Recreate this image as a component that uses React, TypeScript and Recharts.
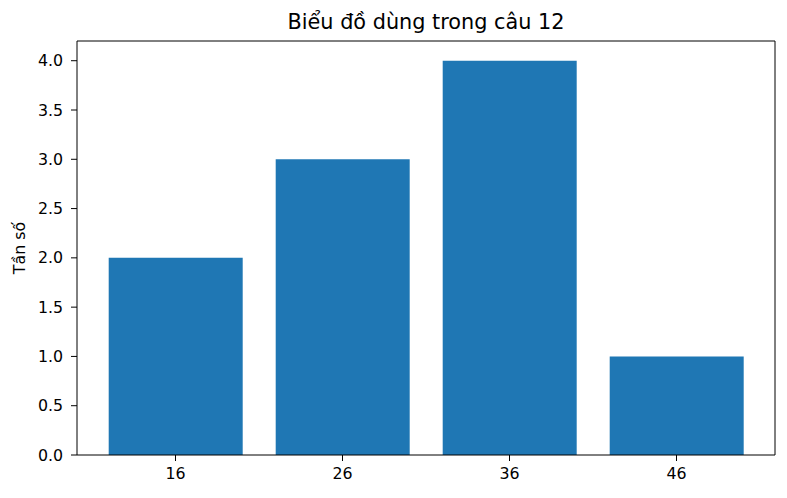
import React from 'react';
import { BarChart, Bar, XAxis, YAxis } from 'recharts';

const categories = ['16', '26', '36', '46'];
const frequencies = [2, 3, 4, 1];
const yTicks = [0, 0.5, 1, 1.5, 2, 2.5, 3, 3.5, 4];

const data = categories.map((c, i) => ({ name: c, value: frequencies[i] }));

const font = 'DejaVu Sans, sans-serif';
const tickStyle = { fill: '#000', fontSize: 15.8, fontFamily: font };

const App: React.FC = () => {
  return (
    <div style={{ position: 'absolute', left: 0, top: 0, width: 787, height: 498, background: '#fff' }}>
      <div
        style={{
          position: 'absolute', left: 77, width: 698, top: 10, textAlign: 'center',
          fontFamily: font, fontSize: 20.8, color: '#000', lineHeight: '24px',
        }}
      >
        Biểu đồ dùng trong câu 12
      </div>
      <div
        style={{
          position: 'absolute', left: 19, top: 248, transform: 'translate(-50%, -50%) rotate(-90deg)',
          fontFamily: font, fontSize: 15.8, color: '#000', whiteSpace: 'nowrap',
        }}
      >
        Tần số
      </div>
      <BarChart
        width={787}
        height={498}
        data={data}
        margin={{ top: 40, right: 11, bottom: 13, left: 27 }}
        barCategoryGap="10%"
      >
        <XAxis
          dataKey="name"
          padding={{ left: 15, right: 15 }}
          stroke="#000"
          tick={tickStyle}
          tickSize={6}
          tickMargin={7}
          height={30}
          interval={0}
        />
        <XAxis xAxisId="top" dataKey="name" orientation="top" stroke="#000" tick={false} tickLine={false} height={1} />
        <YAxis
          domain={[0, 4.2]}
          ticks={yTicks}
          tickFormatter={(v: number) => v.toFixed(1)}
          stroke="#000"
          tick={tickStyle}
          tickSize={6}
          tickMargin={8}
          width={50}
          interval={0}
        />
        <YAxis yAxisId="right" orientation="right" domain={[0, 4.2]} stroke="#000" tick={false} tickLine={false} width={1} />
        <Bar dataKey="value" fill="#1f77b4" isAnimationActive={false} />
      </BarChart>
    </div>
  );
};

export default App;
